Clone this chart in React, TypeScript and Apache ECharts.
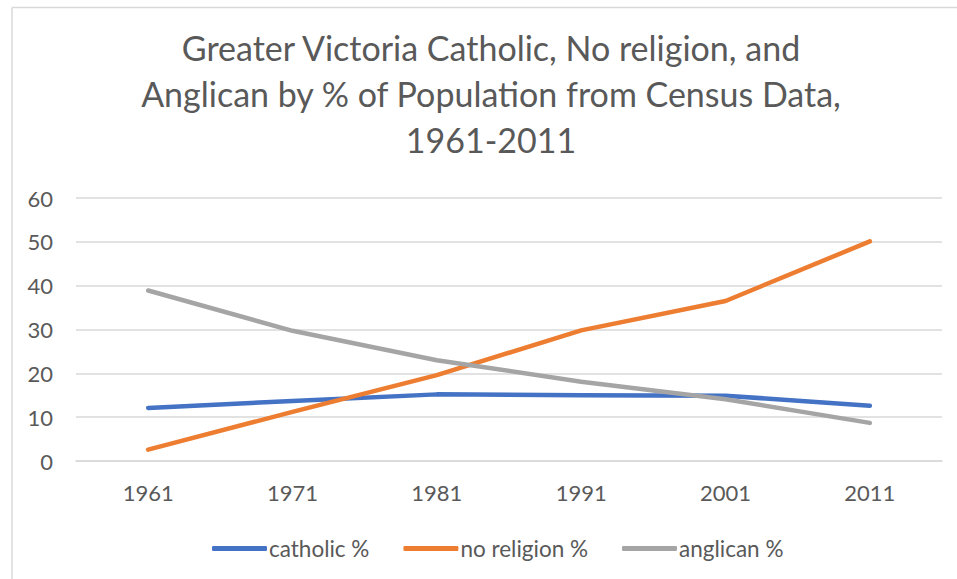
import React, { useEffect, useRef } from "react";
import * as echarts from "echarts";

const categories = ["1961", "1971", "1981", "1991", "2001", "2011"];
const catholic = [12.1, 13.7, 15.2, 15.0, 14.9, 12.6];
const noReligion = [2.6, 11.2, 19.6, 29.8, 36.5, 50.1];
const anglican = [38.9, 29.7, 23.0, 18.1, 14.1, 8.7];
const seriesNames = ["catholic %", "no religion %", "anglican %"];
const colors = ["#4472C4", "#ED7D31", "#A5A5A5"];
const titleText = "Greater Victoria Catholic, No religion, and\nAnglican by % of Population from Census Data,\n1961-2011";

const FONT = "Lato, 'Open Sans', sans-serif";

export default function App() {
  const ref = useRef<HTMLDivElement>(null);
  useEffect(() => {
    if (!ref.current) return;
    const chart = echarts.init(ref.current, null, { renderer: "svg" });
    const lineSeries = (name: string, data: number[], color: string) => ({
      name,
      type: "line",
      data,
      symbol: "none",
      smooth: false,
      lineStyle: { color, width: 4.5, cap: "round", join: "round" },
      itemStyle: { color },
    });
    chart.setOption({
      animation: false,
      backgroundColor: "#ffffff",
      textStyle: { fontFamily: FONT },
      grid: { left: 76, right: 15, top: 198, bottom: 118, containLabel: false },
      xAxis: {
        type: "category",
        data: categories,
        boundaryGap: true,
        axisLine: { show: true, lineStyle: { color: "#d9d9d9", width: 1.5 } },
        axisTick: { show: false },
        axisLabel: { margin: 20, fontSize: 22, color: "#595959", fontFamily: FONT },
      },
      yAxis: {
        type: "value",
        min: 0,
        max: 60,
        interval: 10,
        axisLine: { show: false },
        axisTick: { show: false },
        axisLabel: { margin: 23, fontSize: 22, color: "#595959", fontFamily: FONT },
        splitLine: { lineStyle: { color: "#d9d9d9", width: 1.5 } },
      },
      legend: {
        bottom: 19,
        left: 212,
        padding: 0,
        itemWidth: 55,
        itemHeight: 5,
        itemGap: 34,
        icon: "roundRect",
        textStyle: { fontSize: 22.5, color: "#595959", fontFamily: FONT, padding: [0, 0, 0, -3] },
        data: seriesNames,
      },
      graphic: [
        { type: "line", shape: { x1: 12, y1: 7.5, x2: 957, y2: 7.5 }, style: { stroke: "#d9d9d9", lineWidth: 1.5 } },
        { type: "line", shape: { x1: 12, y1: 7.5, x2: 12, y2: 579 }, style: { stroke: "#d9d9d9", lineWidth: 1.5 } },
        {
          type: "text",
          x: 491,
          y: 24,
          style: {
            text: titleText,
            fontFamily: FONT,
            fontSize: 34,
            lineHeight: 46,
            fill: "#595959",
            align: "center",
            verticalAlign: "top",
          },
        },
      ],
      series: [
        lineSeries(seriesNames[0], catholic, colors[0]),
        lineSeries(seriesNames[1], noReligion, colors[1]),
        lineSeries(seriesNames[2], anglican, colors[2]),
      ],
    });
    return () => chart.dispose();
  }, []);
  return (
    <div
      ref={ref}
      style={{ position: "fixed", left: 0, top: 0, width: 957, height: 579 }}
    />
  );
}
